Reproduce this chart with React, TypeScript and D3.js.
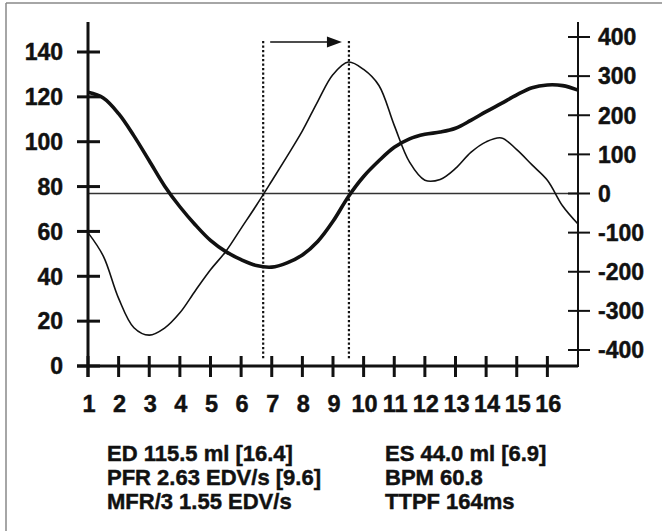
import React from 'react'
import * as d3 from 'd3'

// frames sampled every half frame, 1 .. 17 (17 wraps back to 1)
const frames = d3.range(1, 17.01, 0.5)

// volume curve, ml (left axis)
const volume = [
  122, 119.5, 112.5, 102.6, 91.5, 80.3, 71, 63, 56, 51, 47.4, 44.8, 44.1, 46, 49.5, 55.5, 64.5,
  75.5, 84.5, 91.5, 97.5, 101.3, 103.3, 104.3, 106, 109.5, 113.4, 117.1, 120.9, 124.1, 125.3, 125, 123,
]

// filling / ejection rate curve (right axis)
const flow = [
  -100, -160, -268, -343, -362, -344, -305, -249, -195, -148, -89, -30, 32, 95, 160, 235, 304,
  336, 317, 276, 174, 80, 34, 36, 64, 105, 132, 142, 112, 73, 34, -32, -78,
]

const xTicks = d3.range(1, 17)
const leftTicks = [0, 20, 40, 60, 80, 100, 120, 140]
const rightTicks = [-400, -300, -200, -100, 0, 100, 200, 300, 400]

// frame positions of the two dotted markers (end systole, peak filling)
const esFrame = 6.72
const pfrFrame = 9.52

const statsLeft = ['ED 115.5 ml [16.4]', 'PFR 2.63 EDV/s [9.6]', 'MFR/3 1.55 EDV/s']
const statsRight = ['ES 44.0 ml [6.9]', 'BPM 60.8', 'TTPF 164ms']

export default function App() {
  const width = 663
  const height = 531

  const x = d3.scaleLinear().domain([1, 17]).range([88, 578])
  const yL = d3.scaleLinear().domain([0, 140]).range([366, 52])
  const yR = d3.scaleLinear().domain([-400, 400]).range([350, 37])

  const volLine = d3.line<number>()
    .x((_, i) => x(frames[i]))
    .y(d => yL(d))
    .curve(d3.curveCatmullRom.alpha(0.5))

  const flowLine = d3.line<number>()
    .x((_, i) => x(frames[i]))
    .y(d => yR(d))
    .curve(d3.curveCatmullRom.alpha(0.5))

  const axisTop = 22
  const x0 = x(1)
  const x1 = x(17)
  const yBase = yL(0)
  const font = "'Liberation Sans', Arial, sans-serif"
  const ink = '#111'

  const esX = x(esFrame)
  const pfrX = x(pfrFrame)
  const markTop = 41

  return (
    <svg width={width} height={height} style={{ position: 'absolute', left: 0, top: 0, background: '#fff' }}
      fontFamily={font} fontWeight="bold" fill={ink}>
      {/* frame border (left + top only) */}
      <line x1={6} x2={6} y1={3} y2={height} stroke="#888" strokeWidth={1.5} />
      <line x1={6} x2={662} y1={3} y2={3} stroke="#888" strokeWidth={1.5} />

      {/* zero flow line */}
      <line x1={x0} x2={x1} y1={yR(0)} y2={yR(0)} stroke="#333" strokeWidth={1.3} />

      {/* dotted markers */}
      <line x1={esX} x2={esX} y1={markTop} y2={yBase - 6} stroke={ink} strokeWidth={2.2} strokeDasharray="2.2,2.3" />
      <line x1={pfrX} x2={pfrX} y1={markTop} y2={yBase - 6} stroke={ink} strokeWidth={2.2} strokeDasharray="2.2,2.3" />
      <line x1={esX + 7} x2={pfrX - 14} y1={markTop + 1} y2={markTop + 1} stroke={ink} strokeWidth={1.6} />
      <path d={`M${pfrX - 7},${markTop + 1} L${pfrX - 22},${markTop - 4.5} L${pfrX - 22},${markTop + 6.5} Z`} fill={ink} />

      {/* curves */}
      <path d={flowLine(flow) ?? ''} fill="none" stroke={ink} strokeWidth={1.6} />
      <path d={volLine(volume) ?? ''} fill="none" stroke={ink} strokeWidth={3.6} />

      <g stroke={ink} strokeWidth={0.45}>
        {/* left axis */}
        <line x1={x0} x2={x0} y1={axisTop} y2={yBase + 11} strokeWidth={3} />
        {leftTicks.map(t => (
          <g key={'l' + t}>
            <line x1={x0 - 11} x2={x0 + 12} y1={yL(t)} y2={yL(t)} strokeWidth={3} />
            <text x={63} y={yL(t)} dy="0.36em" textAnchor="end" fontSize={23}>{t}</text>
          </g>
        ))}

        {/* bottom axis */}
        <line x1={x0 - 11} x2={x1} y1={yBase} y2={yBase} strokeWidth={3} />
        {xTicks.map(t => (
          <g key={'x' + t}>
            <line x1={x(t)} x2={x(t)} y1={yBase - 10} y2={yBase + 11} strokeWidth={3} />
            <text x={x(t) + 1} y={412} textAnchor="middle" fontSize={23.5}>{t}</text>
          </g>
        ))}

        {/* right axis */}
        <line x1={x1} x2={x1} y1={axisTop} y2={yBase + 1} strokeWidth={2} />
        {rightTicks.map(t => (
          <g key={'r' + t}>
            <line x1={x1 - 10} x2={x1 + 12} y1={yR(t)} y2={yR(t)} strokeWidth={2} />
            <text x={598} y={yR(t)} dy="0.36em" textAnchor="start" fontSize={23}>{t}</text>
          </g>
        ))}

        {/* summary values */}
        {statsLeft.map((s, i) => (
          <text key={s} x={107} y={461 + i * 24} fontSize={22}>{s}</text>
        ))}
        {statsRight.map((s, i) => (
          <text key={s} x={385} y={461 + i * 24} fontSize={22}>{s}</text>
        ))}
      </g>
    </svg>
  )
}
